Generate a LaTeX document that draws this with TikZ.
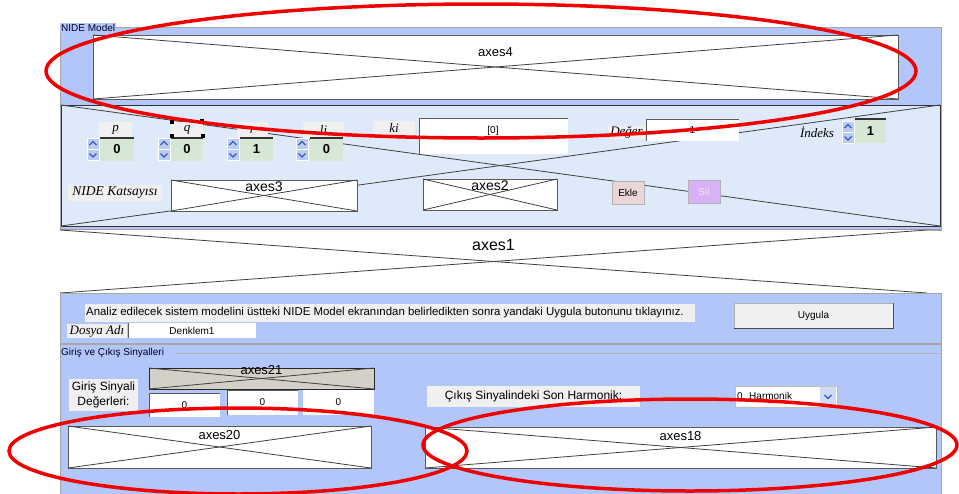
\documentclass[tikz,border=0pt]{standalone}
\usepackage{fontspec}
\setmainfont{Liberation Sans}
\newfontfamily\tnr{Liberation Serif}
\definecolor{panelblue}{RGB}{178,198,250}
\definecolor{innerblue}{RGB}{222,233,249}
\definecolor{valgreen}{RGB}{214,231,214}
\definecolor{lblgray}{RGB}{240,240,240}
\definecolor{spinblue}{RGB}{186,204,244}
\definecolor{chev}{RGB}{60,90,185}
\definecolor{axgray}{RGB}{212,208,200}
\definecolor{eklecol}{RGB}{234,214,214}
\definecolor{silcol}{RGB}{216,178,245}
\definecolor{redl}{RGB}{240,0,0}
\definecolor{edgegray}{RGB}{90,90,90}
\tikzset{
  nw/.style={anchor=north west, inner sep=0pt, outer sep=0pt},
  panel/.style={nw, fill=panelblue, draw=gray!70, line width=0.8pt},
  axbox/.style={nw, fill=white, draw=edgegray, line width=1pt},
  axlabel/.style={font=\fontsize{13}{15}\selectfont, anchor=center, inner sep=0pt},
  xline/.style={draw=black!75, line width=0.8pt},
  lblbox/.style={nw, fill=lblgray},
  itlbl/.style={font=\tnr\itshape\fontsize{13}{15}\selectfont},
  valbox/.style={nw, fill=valgreen, font=\bfseries\fontsize{13}{15}\selectfont},
  editbox/.style={nw, fill=white, font=\fontsize{10}{12}\selectfont},
  guitext/.style={font=\fontsize{10}{12}\selectfont},
  btn/.style={nw, draw=gray!60, font=\fontsize{10}{12}\selectfont},
  redring/.style={draw=redl, line width=3.5pt},
  spinpart/.style={nw, fill=spinblue, draw=white, line width=0.6pt, minimum width=12pt, minimum height=11pt},
  handle/.style={fill=black, minimum size=4pt, inner sep=0pt, anchor=center},
  pics/spin/.style={code={
    \node[spinpart] (-up) at (0,0) {};
    \node[spinpart] (-dn) at (0,11.5) {};
    \draw[chev, line width=1.1pt] ([xshift=-3.5pt,yshift=-1.5pt]-up.center) -- ([yshift=2pt]-up.center) -- ([xshift=3.5pt,yshift=-1.5pt]-up.center);
    \draw[chev, line width=1.1pt] ([xshift=-3.5pt,yshift=1.5pt]-dn.center) -- ([yshift=-2pt]-dn.center) -- ([xshift=3.5pt,yshift=1.5pt]-dn.center);
  }}
}
\newcommand{\axcross}[1]{%
  \draw[xline] (#1.north west) -- (#1.south east);
  \draw[xline] (#1.south west) -- (#1.north east);}
\begin{document}
\begin{tikzpicture}[x=1pt,y=-1pt]
\useasboundingbox[fill=white] (0,0) rectangle (959,493);

% ---------- NIDE Model panel ----------
\node[panel, minimum width=881, minimum height=203] (pnide) at (60,27) {};
\node[anchor=west, inner sep=1pt, fill=panelblue, text=black!85!blue, guitext] (tnide) at (60,28) {NIDE Model};

\node[axbox, minimum width=805, minimum height=64] (ax4) at (93,35) {};
\axcross{ax4}
\node[axlabel] (lax4) at ([yshift=-17pt]ax4.north) {axes4};

% inner panel
\node[nw, fill=innerblue, draw=black!80, line width=1pt, minimum width=879, minimum height=121] (pin) at (61,105) {};
\axcross{pin}

% p q r li
\node[lblbox, minimum width=33, minimum height=16, itlbl] (lp) at (99,122) {p};
\node[valbox, minimum width=34, minimum height=23] (vp) at (100,138) {0};
\pic (sp) at (87,138) {spin};
\node[lblbox, minimum width=32, minimum height=16, itlbl] (lq) at (171,122) {q};
\node[valbox, minimum width=32, minimum height=23] (vq) at (171,138) {0};
\pic (sq) at (158,138) {spin};
\node[lblbox, minimum width=31, minimum height=16, itlbl] (lr) at (237,122) {r};
\node[valbox, minimum width=33, minimum height=23] (vr) at (240,138) {1};
\pic (sr) at (227,138) {spin};
\node[lblbox, minimum width=41, minimum height=16, itlbl] (lli) at (303,122) {li};
\node[valbox, minimum width=33, minimum height=23] (vli) at (310,138) {0};
\pic (sli) at (296,138) {spin};
\foreach \v in {vp,vq,vr,vli} \draw[black!80, line width=1.3pt] (\v.north west) -- (\v.north east);
\node[handle] (h1) at (172,122) {};
\node[handle] (h2) at (172,136) {};
\node[handle] (h3) at (203,136) {};
\node[handle] (h4) at (202,121) {};

% ki
\node[lblbox, minimum width=42, minimum height=14, itlbl] (lki) at (373,121) {ki};
\node[editbox, minimum width=149, minimum height=36] (eki) at (419,118) {};
\draw[edgegray, line width=1pt] (eki.south west) -- (eki.north west) -- (eki.north east);
\node[guitext] (tki) at (493,131) {[0]};

% Değer
\node[lblbox, minimum width=37, minimum height=13, itlbl] (ldeg) at (608,126) {Değer};
\node[editbox, minimum width=93, minimum height=22] (edeg) at (646,119) {1};
\draw[edgegray, line width=1pt] (edeg.south west) -- (edeg.north west) -- (edeg.north east);

% İndeks
\node[lblbox, minimum width=38, minimum height=13, itlbl, fill=innerblue] (lind) at (798,126) {İndeks};
\pic (sind) at (842,121) {spin};
\node[valbox, minimum width=31, minimum height=24] (vind) at (855,119) {1};
\draw[black!80, line width=1.3pt] (vind.north west) -- (vind.north east);

% NIDE Katsayısı row
\node[lblbox, minimum width=94, minimum height=16, itlbl, font=\tnr\itshape\fontsize{13.5}{15}\selectfont] (lkat) at (68,185) {NIDE Katsayısı};
\node[axbox, minimum width=186, minimum height=31] (ax3) at (171,180) {};
\axcross{ax3}
\node[axlabel, font=\fontsize{14}{16}\selectfont] (lax3) at ([yshift=-7pt]ax3.north) {axes3};
\node[axbox, minimum width=134, minimum height=31] (ax2) at (423,179) {};
\axcross{ax2}
\node[axlabel, font=\fontsize{14}{16}\selectfont] (lax2) at ([yshift=-7pt]ax2.north) {axes2};
\node[btn, fill=eklecol, minimum width=32, minimum height=23] (bekle) at (612,181) {Ekle};
\node[btn, fill=silcol, text=white!90!violet, minimum width=32, minimum height=23] (bsil) at (688,180) {Sil};

% ---------- axes1 ----------
\node[nw, fill=white, minimum width=867, minimum height=63] (ax1) at (60,230) {};
\draw[gray!80, line width=1pt] (60,229) -- (941,229);
\axcross{ax1}
\node[axlabel, font=\fontsize{16}{18}\selectfont] (lax1) at ([yshift=-15pt]ax1.north) {axes1};

% ---------- Analiz panel ----------
\node[panel, minimum width=881, minimum height=50] (pana) at (60,293) {};
\node[lblbox, minimum width=610, minimum height=18] (tanabox) at (85,304) {};
\node[anchor=west, inner sep=0pt, font=\fontsize{11.4}{13}\selectfont] (tana) at (86,313) {Analiz edilecek sistem modelini üstteki NIDE Model ekranından belirledikten sonra yandaki Uygula butonunu tıklayınız.};
\node[lblbox, minimum width=60, minimum height=14, itlbl] (ldos) at (67,324) {Dosya Adı};
\node[editbox, minimum width=128, minimum height=15] (eden) at (128,323) {Denklem1};
\draw[edgegray, line width=0.8pt] (eden.south west) -- (eden.north west);
\node[btn, fill=lblgray, minimum width=159, minimum height=25] (buyg) at (734,303) {Uygula};
\draw[black!70, line width=1pt] (buyg.north east) -- (buyg.south east) -- (buyg.south west);

% ---------- Giriş ve Çıkış panel ----------
\node[panel, minimum width=881, minimum height=160] (pgc) at (60,344) {};
\draw[gray!60, line width=0.8pt] (175,353) -- (940,353);
\node[anchor=west, inner sep=1pt, guitext, text=black!85!blue] (tgc) at (60,353) {Giriş ve Çıkış Sinyalleri};

\node[nw, fill=axgray, draw=black!85, line width=1pt, minimum width=225, minimum height=21] (ax21) at (149,368) {};
\axcross{ax21}
\node[axlabel] (lax21) at ([yshift=-2pt]ax21.north) {axes21};

\node[lblbox, minimum width=69, minimum height=32, align=center, font=\fontsize{12}{15}\selectfont] (lgir) at (69,379) {Giriş Sinyali\\Değerleri:};
\node[editbox, minimum width=71, minimum height=24] (e1) at (149,393) {0};
\node[editbox, minimum width=71, minimum height=25] (e2) at (227,390) {0};
\node[editbox, minimum width=71, minimum height=25] (e3) at (303,390) {0};
\foreach \e in {e1,e2} \draw[edgegray, line width=1pt] (\e.south west) -- (\e.north west) -- (\e.north east);

\node[axbox, minimum width=303, minimum height=42] (ax20) at (68,426) {};
\axcross{ax20}
\node[axlabel] (lax20) at ([yshift=-9pt]ax20.north) {axes20};

\node[lblbox, minimum width=213, minimum height=21, font=\fontsize{12}{14}\selectfont] (lcik) at (427,386) {Çıkış Sinyalindeki Son Harmonik:};
\node[editbox, minimum width=102, minimum height=21, draw=gray!50] (pop) at (735,386) {};
\node[anchor=west, guitext, inner sep=0pt] (tpop) at (737,396) {0. Harmonik};
\node[nw, fill=spinblue!70, minimum width=16, minimum height=19] (popb) at (820,387) {};
\draw[chev, line width=1.1pt] ([xshift=-3.5pt,yshift=1.5pt]popb.center) -- ([yshift=-2pt]popb.center) -- ([xshift=3.5pt,yshift=1.5pt]popb.center);

\node[axbox, minimum width=511, minimum height=41] (ax18) at (425,427) {};
\axcross{ax18}
\node[axlabel] (lax18) at ([yshift=-9pt]ax18.north) {axes18};

% ---------- red rings ----------
\draw[redring] (481,71) ellipse [x radius=435, y radius=67];
\draw[redring] (238,451) ellipse [x radius=229, y radius=43];
\draw[redring] (690,445) ellipse [x radius=267, y radius=46];
\end{tikzpicture}
\end{document}
